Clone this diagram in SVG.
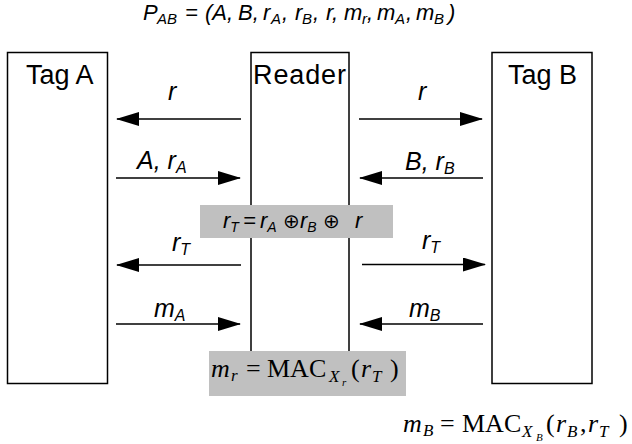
<svg xmlns="http://www.w3.org/2000/svg" width="632" height="444" viewBox="0 0 632 444">
<style>
.box{fill:#fff;stroke:#000;stroke-width:1.5}
.gray{fill:#c0c0c0;stroke:none}
.lbl{font-family:"Liberation Sans",Arial,sans-serif;fill:#000}
.name{font-size:27px}
.it{font-style:italic}
.t22{font-size:22px}
.a25{font-size:25px}
.s16{font-size:16px}
.s15{font-size:15px}
.s14{font-size:14px}
.m22{font-size:22px}
.math{font-family:"Liberation Serif","Times New Roman",serif;font-size:26px;fill:#000}
.mi{font-style:italic}
.ms{font-size:17px}
.mss{font-size:11px}
.op{font-family:"DejaVu Sans",sans-serif;font-size:20px}
.conn line{stroke:#000;stroke-width:1.5;marker-end:url(#ah)}
</style>
<defs>
<marker id="ah" viewBox="0 0 23 14" markerWidth="23" markerHeight="14" refX="22" refY="7" orient="auto" markerUnits="userSpaceOnUse">
<path d="M0,0 L23,7 L0,14 z" fill="#000"/>
</marker>
</defs>
<rect width="632" height="444" fill="#fff"/>

<text class="lbl it t22" y="20"><tspan x="143">P</tspan><tspan class="s15" x="157" y="24">AB</tspan><tspan x="185" y="20">=</tspan><tspan x="205">(A,</tspan><tspan x="238">B,</tspan><tspan x="263">r</tspan><tspan class="s15" x="271" y="24">A</tspan><tspan x="282" y="20">,</tspan><tspan x="295">r</tspan><tspan class="s15" x="302" y="24">B</tspan><tspan x="313" y="20">,</tspan><tspan x="326">r,</tspan><tspan x="344">m</tspan><tspan class="s15" x="362" y="24">r</tspan><tspan x="367" y="20">,</tspan><tspan x="377">m</tspan><tspan class="s15" x="395" y="24">A</tspan><tspan x="406" y="20">,</tspan><tspan x="416">m</tspan><tspan class="s15" x="434" y="24">B</tspan><tspan x="448" y="20">)</tspan></text>

<g id="tagA">
<rect class="box" x="7.5" y="52.5" width="100" height="331"/>
<text class="lbl name" x="26" y="84">Tag A</text>
</g>
<g id="tagB">
<rect class="box" x="492" y="52.5" width="100" height="331"/>
<text class="lbl name" x="508" y="84">Tag B</text>
</g>
<g id="reader">
<rect class="box" x="251" y="52.5" width="98" height="300"/>
<text class="lbl name" x="253" y="84" textLength="93">Reader</text>
</g>

<g id="rT-box">
<rect class="gray" x="200" y="205" width="193" height="33"/>
<text class="lbl it m22" y="228"><tspan x="223">r</tspan><tspan class="s14" y="232">T</tspan><tspan x="243" y="228">=</tspan><tspan x="260">r</tspan><tspan class="s14" y="232">A</tspan><tspan class="op" x="283" y="228">⊕</tspan><tspan x="300">r</tspan><tspan class="s14" y="232">B</tspan><tspan class="op" x="323" y="228">⊕</tspan><tspan x="355">r</tspan></text>
</g>

<g id="mr-box">
<rect class="gray" x="209" y="351" width="197" height="45"/>
<text class="math" y="377"><tspan x="211" class="mi">m</tspan><tspan class="ms mi" x="231" y="381">r</tspan><tspan x="246" y="377">=</tspan><tspan x="267">MAC</tspan><tspan class="ms mi" x="329" y="382">X</tspan><tspan class="mss mi" x="342" y="386">r</tspan><tspan x="351" y="377">(</tspan><tspan x="361" class="mi">r</tspan><tspan class="ms mi" x="372" y="382">T</tspan><tspan x="390" y="377">)</tspan></text>
</g>

<g id="mB-formula">
<text class="math" y="432"><tspan x="403" class="mi">m</tspan><tspan class="ms mi" x="423" y="436">B</tspan><tspan x="440" y="432">=</tspan><tspan x="462">MAC</tspan><tspan class="ms mi" x="522" y="437">X</tspan><tspan class="mss mi" x="536" y="441">B</tspan><tspan x="546" y="432">(</tspan><tspan x="556" class="mi">r</tspan><tspan class="ms mi" x="567" y="437">B</tspan><tspan x="580" y="432">,</tspan><tspan x="588" class="mi">r</tspan><tspan class="ms mi" x="599" y="437">T</tspan><tspan x="619" y="432">)</tspan></text>
</g>

<g id="connectors" class="conn">
<line x1="241" y1="119" x2="117" y2="119"/>
<line x1="116" y1="178" x2="240" y2="178"/>
<line x1="241" y1="265" x2="117" y2="265"/>
<line x1="116" y1="324" x2="240" y2="324"/>
<line x1="359" y1="119" x2="482" y2="119"/>
<line x1="483" y1="178" x2="360" y2="178"/>
<line x1="362" y1="264.5" x2="485" y2="264.5"/>
<line x1="483" y1="324" x2="360" y2="324"/>
</g>

<g id="labels" class="lbl it a25">
<text x="168" y="100">r</text>
<text x="137" y="169">A, r<tspan class="s16" dy="4">A</tspan></text>
<text x="172" y="251">r<tspan class="s16" dy="4">T</tspan></text>
<text x="154" y="317">m<tspan class="s16" dy="4">A</tspan></text>
<text x="418" y="100">r</text>
<text x="405" y="170">B, r<tspan class="s16" dy="4">B</tspan></text>
<text x="422" y="249">r<tspan class="s16" dy="4">T</tspan></text>
<text x="409" y="317">m<tspan class="s16" dy="4">B</tspan></text>
</g>
</svg>
